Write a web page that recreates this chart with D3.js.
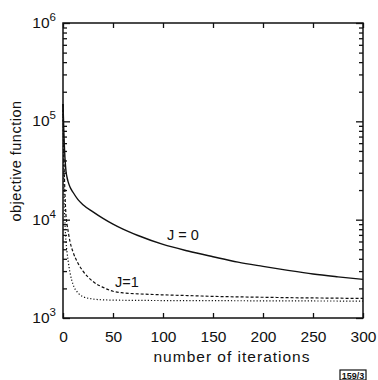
<!DOCTYPE html>
<html>
<head>
<meta charset="utf-8">
<script src="https://cdn.jsdelivr.net/npm/d3@7"></script>
<style>
  body { margin: 0; background: #fff; }
  svg { display: block; }
  text { font-family: "Liberation Sans", Arial, sans-serif; fill: #111; }
</style>
</head>
<body>
<div id="chart"></div>
<script>
// iteration counts
const iterations = [0, 1, 2, 3, 4, 5, 7, 10, 15, 20, 30, 40, 50, 60, 75, 100, 125, 150, 175, 200, 225, 250, 275, 300];

// objective function values (log axis)
const j0 = [150000, 70000, 42000, 31000, 27000, 24500, 21500, 19000, 16000, 14200, 12000, 10300, 9000, 8000, 6900, 5600, 4800, 4200, 3700, 3350, 3050, 2800, 2620, 2470];
const j1 = [150000, 40000, 18000, 11000, 9000, 7800, 6000, 4700, 3600, 3000, 2350, 2050, 1870, 1800, 1760, 1720, 1690, 1660, 1640, 1625, 1610, 1600, 1590, 1580];
const j2 = [150000, 20000, 9000, 6000, 4700, 3900, 2900, 2200, 1800, 1650, 1560, 1530, 1520, 1515, 1510, 1505, 1502, 1500, 1498, 1495, 1493, 1490, 1488, 1485];

const xTicks = [0, 50, 100, 150, 200, 250, 300];
const yMajor = [1e3, 1e4, 1e5, 1e6];

const width = 378, height = 380;
const margin = { top: 23, right: 15, bottom: 62, left: 63 };

const svg = d3.select("#chart").append("svg")
  .attr("width", width)
  .attr("height", height);

const x = d3.scaleLinear().domain([0, 300]).range([margin.left, width - margin.right]);
const y = d3.scaleLog().domain([1e3, 1e6]).range([height - margin.bottom, margin.top]);

// minor log ticks 2..9 in each decade
const yMinor = [];
for (let e = 3; e < 6; e++) for (let m = 2; m <= 9; m++) yMinor.push(m * Math.pow(10, e));

function styleAxis(g) {
  g.select(".domain").remove();
  g.selectAll(".tick line").attr("stroke", "#111").attr("stroke-width", 1.3);
}

// bottom / top
svg.append("g")
  .attr("transform", `translate(0,${y(1e3)})`)
  .call(d3.axisBottom(x).tickValues(xTicks).tickSize(-5).tickPadding(10))
  .call(styleAxis)
  .call(g => g.selectAll(".tick text").attr("font-size", 15.5).attr("dy", "0.9em"));

svg.append("g")
  .attr("transform", `translate(0,${y(1e6)})`)
  .call(d3.axisTop(x).tickValues(xTicks).tickSize(-5).tickFormat(""))
  .call(styleAxis);

// left / right, major and minor
[[d3.axisLeft, x(0)], [d3.axisRight, x(300)]].forEach(([ax, pos]) => {
  svg.append("g")
    .attr("transform", `translate(${pos},0)`)
    .call(ax(y).tickValues(yMajor).tickSize(-7).tickFormat(""))
    .call(styleAxis);
  svg.append("g")
    .attr("transform", `translate(${pos},0)`)
    .call(ax(y).tickValues(yMinor).tickSize(-4).tickFormat(""))
    .call(styleAxis);
});

// y tick labels 10^n
const yl = svg.append("g").selectAll("text")
  .data(yMajor)
  .join("text")
  .attr("x", 56)
  .attr("y", d => y(d) + 5)
  .attr("text-anchor", "end")
  .attr("font-size", 15.5);
yl.append("tspan").text("10");
yl.append("tspan").attr("dy", -7).attr("font-size", 11.5).text(d => Math.round(Math.log10(d)));

// frame
svg.append("rect")
  .attr("x", x(0)).attr("y", y(1e6))
  .attr("width", x(300) - x(0)).attr("height", y(1e3) - y(1e6))
  .attr("fill", "none").attr("stroke", "#111").attr("stroke-width", 1.5);

const line = vals => d3.line()
  .x((d, i) => x(iterations[i]))
  .y(d => y(d))
  .curve(d3.curveMonotoneX)(vals);

svg.append("path").attr("d", line(j0))
  .attr("fill", "none").attr("stroke", "#111").attr("stroke-width", 1.4);
svg.append("path").attr("d", line(j1))
  .attr("fill", "none").attr("stroke", "#111").attr("stroke-width", 1.2)
  .attr("stroke-dasharray", "3,2");
svg.append("path").attr("d", line(j2))
  .attr("fill", "none").attr("stroke", "#111").attr("stroke-width", 1.2)
  .attr("stroke-dasharray", "1.2,2");

// curve labels
svg.append("text").attr("x", x(104)).attr("y", y(6200)).attr("font-size", 14.5).text("J = 0");
svg.append("text").attr("x", x(52)).attr("y", y(2050)).attr("font-size", 14.5).text("J=1");

// axis titles
svg.append("text")
  .attr("transform", `translate(21,161) rotate(-90)`)
  .attr("text-anchor", "middle")
  .attr("font-size", 14.5)
  .attr("letter-spacing", 0.5)
  .text("objective function");

svg.append("text")
  .attr("x", 232).attr("y", 362)
  .attr("text-anchor", "middle")
  .attr("font-size", 15.5)
  .attr("letter-spacing", 1)
  .text("number  of iterations");

// figure number box
svg.append("rect").attr("x", 340).attr("y", 370).attr("width", 26).attr("height", 10)
  .attr("fill", "none").attr("stroke", "#111").attr("stroke-width", 1.2);
svg.append("text").attr("x", 353).attr("y", 378.5).attr("text-anchor", "middle")
  .attr("font-size", 9).attr("font-weight", "bold").text("159/3");
</script>
</body>
</html>
